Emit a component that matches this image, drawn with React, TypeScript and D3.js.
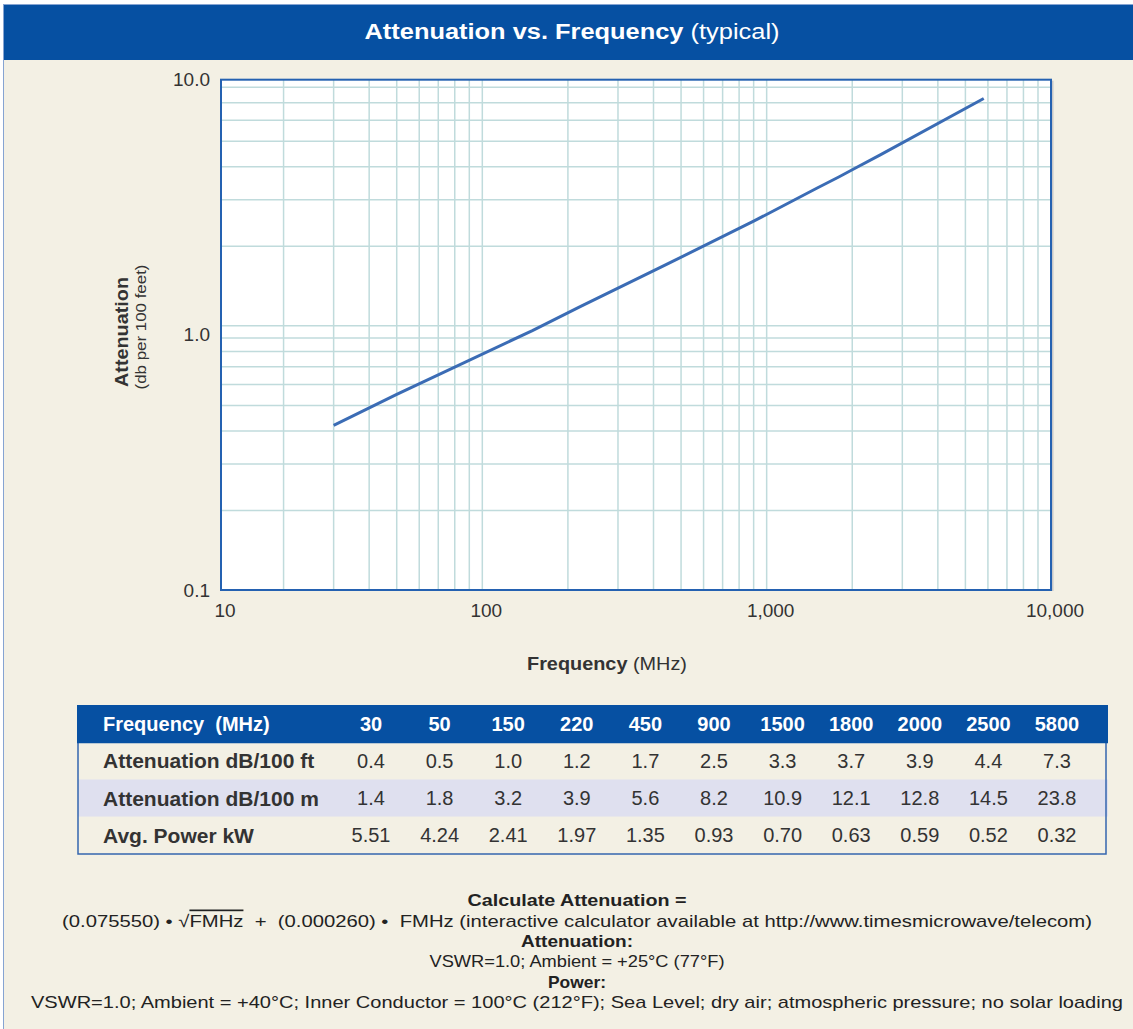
import React, { useRef, useEffect } from 'react';
import * as d3 from 'd3';

// table columns (MHz)
const frequencies = [30, 50, 150, 220, 450, 900, 1500, 1800, 2000, 2500, 5800];
// curve, dB per 100 ft
const curveAttenuation = [0.42, 0.55, 0.96, 1.18, 1.72, 2.49, 3.32, 3.67, 3.9, 4.43, 7.26];

const rowNames = ['Attenuation dB/100 ft', 'Attenuation dB/100 m', 'Avg. Power kW'];
const attenFt = ['0.4', '0.5', '1.0', '1.2', '1.7', '2.5', '3.3', '3.7', '3.9', '4.4', '7.3'];
const attenM = ['1.4', '1.8', '3.2', '3.9', '5.6', '8.2', '10.9', '12.1', '12.8', '14.5', '23.8'];
const avgPower = ['5.51', '4.24', '2.41', '1.97', '1.35', '0.93', '0.70', '0.63', '0.59', '0.52', '0.32'];

const xTickValues = [10, 100, 1000, 10000];
const xTickLabels = ['10', '100', '1,000', '10,000'];
const yTickLabels = ['10.0', '1.0', '0.1'];

const noteLines = [
    'Calculate Attenuation =',
    '(0.075550) • √FMHz  +  (0.000260) •  FMHz (interactive calculator available at http://www.timesmicrowave/telecom)',
    'Attenuation:',
    'VSWR=1.0; Ambient = +25°C (77°F)',
    'Power:',
    'VSWR=1.0; Ambient = +40°C; Inner Conductor = 100°C (212°F); Sea Level; dry air; atmospheric pressure; no solar loading'
];
const noteBold = [true, false, true, false, true, false];
const noteWidths = [219, 1030, 112, 295, 58, 1092];

const FONT = '"Liberation Sans", Arial, Helvetica, sans-serif';
const BLUE = '#0650A2';
const BG = '#F3F0E4';

function drawChart(el: SVGSVGElement) {
    const svg = d3.select(el);
    svg.selectAll('*').remove();

    const W = 1133, H = 1029;
    const plot = { left: 221, right: 1051, top: 79.7, bottom: 590 };

    svg.append('rect').attr('width', W).attr('height', H).attr('fill', '#fff');
    svg.append('rect')
        .attr('x', 3.5).attr('y', 4.5)
        .attr('width', W + 10).attr('height', H + 10)
        .attr('fill', BG).attr('stroke', '#86A4D2').attr('stroke-width', 1);

    // title bar
    svg.append('rect')
        .attr('x', 4).attr('y', 5).attr('width', W - 4).attr('height', 55)
        .attr('fill', BLUE);
    const title = svg.append('text')
        .attr('x', 572).attr('y', 31)
        .attr('text-anchor', 'middle').attr('dominant-baseline', 'central')
        .attr('fill', '#fff').style('font-size', '22px')
        .attr('textLength', 415).attr('lengthAdjust', 'spacingAndGlyphs');
    title.append('tspan').style('font-weight', 'bold').text('Attenuation vs. Frequency');
    title.append('tspan').text(' (typical)');

    // scales: the printed grid is cropped a little inside 10 and 10.0
    const x = d3.scaleLog().domain([12.05, 10000]).range([plot.left, plot.right]).clamp(true);
    const y = d3.scaleLog().domain([0.1, 8.55]).range([plot.bottom, plot.top]);
    const yLabelPos = d3.scalePoint().domain(yTickLabels).range([plot.top, plot.bottom]);

    const pw = plot.right - plot.left, ph = plot.bottom - plot.top;

    svg.append('rect')
        .attr('x', plot.left + 2.5).attr('y', plot.top + 1)
        .attr('width', pw).attr('height', ph)
        .attr('fill', '#c8c8c8');
    svg.append('rect')
        .attr('x', plot.left).attr('y', plot.top)
        .attr('width', pw).attr('height', ph)
        .attr('fill', '#fff');

    const grid = svg.append('g').attr('class', 'grid')
        .attr('stroke', '#C0DBDC').attr('stroke-width', 1.5);
    grid.selectAll('.vx')
        .data(x.ticks())
        .enter().append('line')
        .attr('class', 'vx')
        .attr('x1', d => x(d)).attr('x2', d => x(d))
        .attr('y1', plot.top).attr('y2', plot.bottom);
    grid.selectAll('.hy')
        .data(y.ticks())
        .enter().append('line')
        .attr('class', 'hy')
        .attr('y1', d => y(d)).attr('y2', d => y(d))
        .attr('x1', plot.left).attr('x2', plot.right);

    const line = d3.line<number>()
        .x((d, i) => x(frequencies[i]))
        .y(d => y(d));

    svg.append('path')
        .datum(curveAttenuation)
        .attr('d', line)
        .attr('fill', 'none')
        .attr('stroke', '#3B6CB5')
        .attr('stroke-width', 3);

    svg.append('rect')
        .attr('x', plot.left).attr('y', plot.top)
        .attr('width', pw).attr('height', ph)
        .attr('fill', 'none').attr('stroke', '#2461B1').attr('stroke-width', 2);

    // tick labels
    svg.selectAll('.xlab')
        .data(xTickValues)
        .enter().append('text')
        .attr('class', 'xlab')
        .attr('x', d => x(d) + 4)
        .attr('y', 610)
        .attr('text-anchor', 'middle').attr('dominant-baseline', 'central')
        .style('font-size', '19px').attr('fill', '#333')
        .text((d, i) => xTickLabels[i]);

    svg.selectAll('.ylab')
        .data(yTickLabels)
        .enter().append('text')
        .attr('class', 'ylab')
        .attr('x', plot.left - 11)
        .attr('y', d => yLabelPos(d)!)
        .attr('text-anchor', 'end').attr('dominant-baseline', 'central')
        .style('font-size', '19px').attr('fill', '#333')
        .text(d => d);

    const xTitle = svg.append('text')
        .attr('x', 607).attr('y', 664)
        .attr('text-anchor', 'middle').attr('dominant-baseline', 'central')
        .style('font-size', '18px').attr('fill', '#333')
        .attr('textLength', 160).attr('lengthAdjust', 'spacingAndGlyphs');
    xTitle.append('tspan').style('font-weight', 'bold').text('Frequency');
    xTitle.append('tspan').text(' (MHz)');

    svg.append('text')
        .attr('transform', 'translate(121,332) rotate(-90)')
        .attr('text-anchor', 'middle').attr('dominant-baseline', 'central')
        .style('font-size', '19px').style('font-weight', 'bold').attr('fill', '#333')
        .attr('textLength', 110).attr('lengthAdjust', 'spacingAndGlyphs')
        .text('Attenuation');
    svg.append('text')
        .attr('transform', 'translate(140,327) rotate(-90)')
        .attr('text-anchor', 'middle').attr('dominant-baseline', 'central')
        .style('font-size', '15px').attr('fill', '#333')
        .attr('textLength', 125).attr('lengthAdjust', 'spacingAndGlyphs')
        .text('(db per 100 feet)');

    // data table
    const table = { left: 78, right: 1108, top: 705, bottom: 854 };
    const col = d3.scalePoint<string>()
        .domain(frequencies.map(String))
        .range([371, 1057]);
    const row = d3.scaleBand<string>()
        .domain(['header', ...rowNames])
        .range([table.top, table.bottom]);
    const rowFill = [BG, '#DFE0EF', BG];
    const rowValues = [attenFt, attenM, avgPower];

    svg.selectAll('.rowbg')
        .data(rowNames)
        .enter().append('rect')
        .attr('class', 'rowbg')
        .attr('x', table.left).attr('width', table.right - table.left)
        .attr('y', d => row(d)!).attr('height', row.bandwidth())
        .attr('fill', (d, i) => rowFill[i]);
    svg.append('rect')
        .attr('x', table.left).attr('y', row(rowNames[0])!)
        .attr('width', table.right - table.left - 2)
        .attr('height', table.bottom - row(rowNames[0])!)
        .attr('fill', 'none').attr('stroke', '#3466AE').attr('stroke-width', 1.5);
    svg.append('rect')
        .attr('x', table.left - 1).attr('y', table.top)
        .attr('width', table.right - table.left + 1).attr('height', row.bandwidth() + 1)
        .attr('fill', BLUE);

    const headerY = row('header')! + row.bandwidth() / 2;
    svg.append('text')
        .attr('x', 103).attr('y', headerY)
        .attr('dominant-baseline', 'central')
        .style('font-size', '20px').style('font-weight', 'bold').style('white-space', 'pre')
        .attr('fill', '#fff')
        .text('Frequency  (MHz)');
    svg.selectAll('.colhead')
        .data(frequencies)
        .enter().append('text')
        .attr('class', 'colhead')
        .attr('x', d => col(String(d))!)
        .attr('y', headerY)
        .attr('text-anchor', 'middle').attr('dominant-baseline', 'central')
        .style('font-size', '20px').style('font-weight', 'bold')
        .attr('fill', '#fff')
        .text(d => d);

    rowNames.forEach((name, r) => {
        const cy = row(name)! + row.bandwidth() / 2;
        svg.append('text')
            .attr('x', 103).attr('y', cy)
            .attr('dominant-baseline', 'central')
            .style('font-size', '21px').style('font-weight', 'bold')
            .attr('fill', '#333')
            .text(name);
        svg.selectAll('.cell' + r)
            .data(rowValues[r])
            .enter().append('text')
            .attr('class', 'cell' + r)
            .attr('x', (d, i) => col(String(frequencies[i]))!)
            .attr('y', cy)
            .attr('text-anchor', 'middle').attr('dominant-baseline', 'central')
            .style('font-size', '20px')
            .attr('fill', '#333')
            .text(d => d);
    });

    // notes under the table
    const noteY = d3.scalePoint<number>()
        .domain(d3.range(noteLines.length))
        .range([900, 1002.5]);
    noteLines.forEach((txt, i) => {
        const t = svg.append('text')
            .attr('x', 577).attr('y', noteY(i)!)
            .attr('text-anchor', 'middle').attr('dominant-baseline', 'central')
            .style('font-size', '17px').style('white-space', 'pre')
            .style('font-weight', noteBold[i] ? 'bold' : 'normal')
            .attr('fill', '#222')
            .attr('textLength', noteWidths[i]).attr('lengthAdjust', 'spacingAndGlyphs');
        if (txt.includes('√')) {
            const k = txt.indexOf('√');
            t.append('tspan').text(txt.slice(0, k + 1));
            t.append('tspan').style('text-decoration', 'overline').text('FMHz');
            t.append('tspan').text(txt.slice(k + 5));
        } else {
            t.text(txt);
        }
    });
}

const App = () => {
    const svgRef = useRef<SVGSVGElement>(null);

    useEffect(() => {
        if (svgRef.current) {
            drawChart(svgRef.current);
        }
    }, []);

    return (
        <svg
            ref={svgRef}
            width={1133}
            height={1029}
            style={{ position: 'absolute', left: 0, top: 0, fontFamily: FONT }}
        />
    );
};

export default App;
